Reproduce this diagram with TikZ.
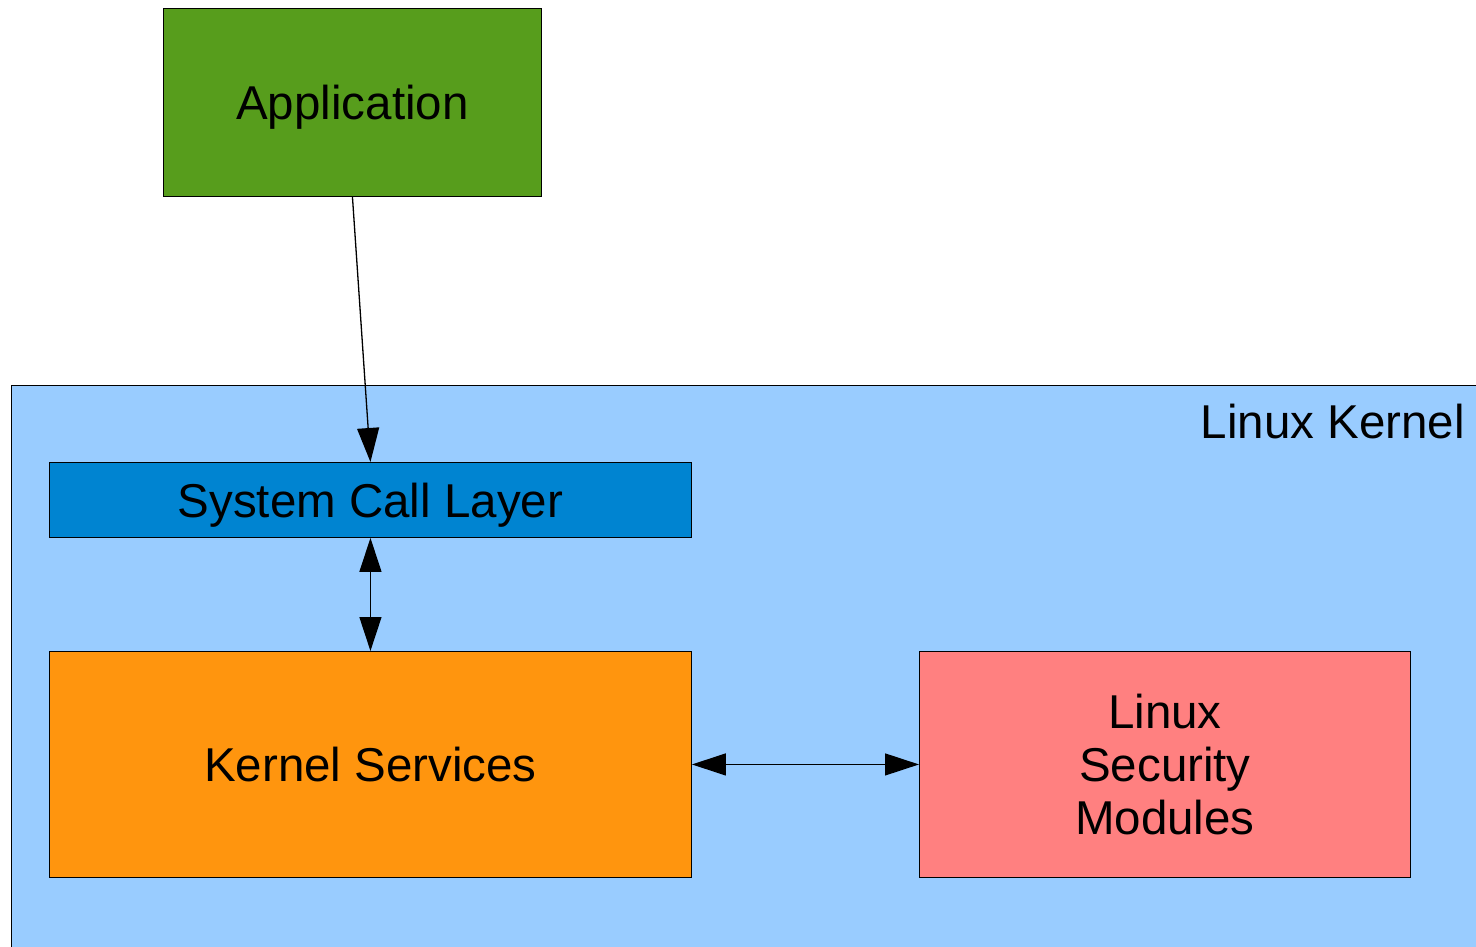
\documentclass[tikz,border=0pt]{standalone}
\usepackage{fontspec}
\setmainfont{Liberation Sans}
\usetikzlibrary{arrows.meta}
\definecolor{appgreen}{HTML}{579D1C}
\definecolor{kernelblue}{HTML}{99CCFF}
\definecolor{sclblue}{HTML}{0084D1}
\definecolor{ksorange}{HTML}{FF950E}
\definecolor{lsmred}{HTML}{FF8080}
\tikzset{
  box/.style={draw=black, line width=0.9pt, inner sep=0pt, anchor=north west, align=center,
    font=\fontsize{47.5}{53}\selectfont},
  conn/.style={line width=1.3pt, draw=black},
  tip/.style={-{Triangle[length=34pt,width=22pt]}},
  tips/.style={{Triangle[length=34pt,width=22pt]}-{Triangle[length=34pt,width=22pt]}},
}
\begin{document}
\begin{tikzpicture}[x=1pt,y=-1pt]
\clip (0,0) rectangle (1476,947);
\fill[white] (0,0) rectangle (1476,947);
\node[box, fill=kernelblue, minimum width=1480pt, minimum height=580pt] (kernel) at (11,385) {};
\node[anchor=base east, inner sep=0pt, font=\fontsize{47.5}{53}\selectfont] (klabel) at (1465,438) {Linux Kernel};
\node[box, fill=appgreen, minimum width=378pt, minimum height=188pt, text depth=0pt] (app) at (163,8) {Application};
\node[box, fill=sclblue, minimum width=642pt, minimum height=75pt, text depth=0pt] (scl) at (49,462) {System Call Layer};
\node[box, fill=ksorange, minimum width=642pt, minimum height=226pt] (ks) at (49,651) {Kernel Services};
\node[box, fill=lsmred, minimum width=491pt, minimum height=226pt] (lsm) at (919,651) {Linux\\Security\\Modules};
\draw[conn, tip] (app.south) -- (scl.north);
\draw[conn, tips] (scl.south) -- (ks.north);
\draw[conn, tips] (ks.east) -- (lsm.west);
\end{tikzpicture}
\end{document}
